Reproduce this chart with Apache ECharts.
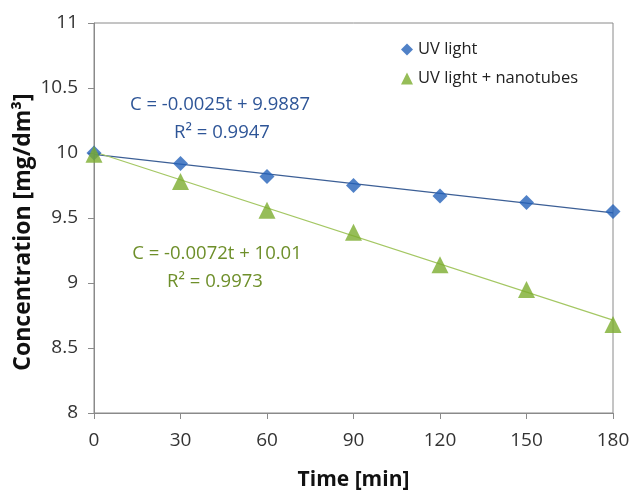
<!DOCTYPE html>
<html><head><meta charset="utf-8">
<script src="https://cdn.jsdelivr.net/npm/echarts@6/dist/echarts.min.js"></script>
<style>html,body{margin:0;padding:0;background:#fff}#c{width:632px;height:493px}</style>
</head><body><div id="c"></div>
<script>
const times = [0, 30, 60, 90, 120, 150, 180];
const uvLight = [10.0, 9.92, 9.82, 9.75, 9.67, 9.62, 9.55];
const uvNano = [9.99, 9.78, 9.56, 9.39, 9.14, 8.95, 8.68];
const uvFit = [-0.0025, 9.9887];
const nanoFit = [-0.0072, 10.01];
const yTicks = [8, 8.5, 9, 9.5, 10, 10.5, 11];
const xTicks = [0, 30, 60, 90, 120, 150, 180];
const FONT = 'Open Sans';
const fitLine = (f) => [[times[0], f[0]*times[0]+f[1]], [times[times.length-1], f[0]*times[times.length-1]+f[1]]];
const chart = echarts.init(document.getElementById('c'));
chart.setOption({
  animation: false,
  textStyle: {fontFamily: FONT},
  grid: {left: 94, right: 19, top: 23, bottom: 80, show: true, borderColor: '#8a8a8a', borderWidth: 1, containLabel: false, outerBoundsMode: 'none'},
  legend: {
    orient: 'vertical', left: 396, top: 36, itemGap: 12, itemWidth: 12, itemHeight: 12,
    textStyle: {fontFamily: FONT, fontSize: 16.5, color: '#222'},
    data: [{name: 'UV light', icon: 'diamond'}, {name: 'UV light + nanotubes', icon: 'triangle'}]
  },
  xAxis: {
    type: 'value', min: 0, max: 180, interval: 30,
    name: 'Time [min]', nameLocation: 'middle', nameGap: 57,
    nameTextStyle: {fontFamily: FONT, fontSize: 21, fontWeight: 'bold', color: '#111'},
    axisLine: {lineStyle: {color: '#8a8a8a'}},
    axisTick: {show: true, length: 6, lineStyle: {color: '#8a8a8a'}},
    axisLabel: {fontSize: 19, color: '#333', margin: 18, formatter: v => xTicks.includes(v) ? String(v) : ''},
    splitLine: {show: false}
  },
  yAxis: {
    type: 'value', min: 8, max: 11, interval: 0.5,
    axisLine: {show: true, lineStyle: {color: '#8a8a8a'}},
    axisTick: {show: true, length: 6, lineStyle: {color: '#8a8a8a'}},
    axisLabel: {fontSize: 19, color: '#333', margin: 16, formatter: v => yTicks.includes(v) ? String(v) : ''},
    splitLine: {show: false}
  },
  series: [
    {name: 'UV light fit', type: 'line', data: fitLine(uvFit), symbol: 'none', lineStyle: {color: '#3c5f96', width: 1.2}, silent: true, z: 1},
    {name: 'UV light + nanotubes fit', type: 'line', data: fitLine(nanoFit), symbol: 'none', lineStyle: {color: '#a4c763', width: 1.2}, silent: true, z: 1},
    {name: 'UV light', type: 'scatter', data: times.map((t,i)=>[t, uvLight[i]]), symbol: 'diamond', symbolSize: 15, itemStyle: {color: '#2462b9'}, z: 3},
    {name: 'UV light + nanotubes', type: 'scatter', data: times.map((t,i)=>[t, uvNano[i]]), symbol: 'triangle', symbolSize: 17, itemStyle: {color: '#7cad2e'}, z: 3}
  ],
  graphic: [
    {type: 'text', x: 23, y: 232, rotation: Math.PI/2, style: {text: 'Concentration [mg/dm³]', fontFamily: FONT, fontSize: 23, fontWeight: 'bold', fill: '#111', textAlign: 'center', textVerticalAlign: 'middle'}},
    {type: 'text', x: 220, y: 105, style: {text: 'C = -0.0025t + 9.9887', fontFamily: FONT, fontSize: 18.5, fill: '#2e5597', textAlign: 'center', textVerticalAlign: 'middle'}},
    {type: 'text', x: 222, y: 133, style: {text: 'R² = 0.9947', fontFamily: FONT, fontSize: 18.5, fill: '#2e5597', textAlign: 'center', textVerticalAlign: 'middle'}},
    {type: 'text', x: 217, y: 254, style: {text: 'C = -0.0072t + 10.01', fontFamily: FONT, fontSize: 18.5, fill: '#6e8f2a', textAlign: 'center', textVerticalAlign: 'middle'}},
    {type: 'text', x: 215, y: 282, style: {text: 'R² = 0.9973', fontFamily: FONT, fontSize: 18.5, fill: '#6e8f2a', textAlign: 'center', textVerticalAlign: 'middle'}}
  ]
});
</script></body></html>
